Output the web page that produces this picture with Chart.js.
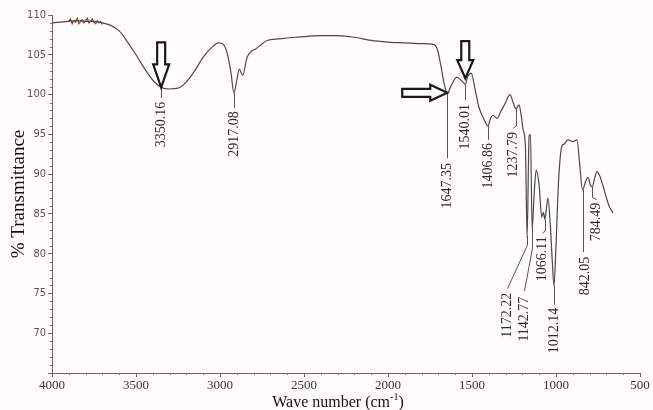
<!DOCTYPE html>
<html>
<head>
<meta charset="utf-8">
<script src="https://cdn.jsdelivr.net/npm/chart.js@4.4.1/dist/chart.umd.min.js"></script>
<style>
  html, body { margin: 0; padding: 0; background: #fffdfb; }
  canvas { display: block; }
</style>
</head>
<body>
<canvas id="c" width="653" height="410"></canvas>
<script>
// ---------- DATA ----------
const wavenumbers = [
  4000, 3950, 3900, 3850, 3800, 3750, 3700, 3650, 3600, 3550,
  3500, 3450, 3400, 3350, 3300, 3250, 3200, 3150, 3100, 3050,
  3010, 2980, 2955, 2935, 2917, 2900, 2885, 2865, 2840, 2810,
  2790, 2760, 2720, 2650, 2550, 2400, 2300, 2200, 2100, 2000,
  1900, 1800, 1730, 1705, 1685, 1665, 1647, 1620, 1590, 1570,
  1555, 1540, 1525, 1505, 1480, 1460, 1440, 1420, 1406, 1390,
  1375, 1350, 1330, 1300, 1274, 1255, 1238, 1220, 1208, 1195,
  1182, 1172, 1160, 1152, 1142, 1130, 1118, 1100, 1085, 1075,
  1066, 1058, 1048, 1035, 1022, 1012, 1000, 985, 965, 950,
  930, 900, 875, 860, 842, 825, 810, 795, 784, 770,
  756, 740, 720, 700, 680, 660
];
const transmittance = [
  109.0, 109.1, 109.2, 109.3, 109.2, 109.2, 109.0, 108.7, 108.0, 106.6,
  105.0, 103.3, 101.8, 100.9, 100.7, 100.8, 101.6, 103.0, 104.7, 105.9,
  106.5, 106.3, 105.0, 102.8, 100.2, 101.8, 103.2, 102.4, 104.6, 105.5,
  105.7, 106.2, 106.8, 107.0, 107.2, 107.4, 107.4, 107.2, 106.8, 106.6,
  106.5, 106.4, 106.3, 105.6, 103.6, 101.3, 100.2, 101.3, 102.2, 101.9,
  101.6, 101.3, 102.3, 102.7, 100.5, 98.5, 97.4, 96.5, 96.0, 97.0,
  97.4, 97.0, 97.8, 99.0, 100.0, 99.0, 98.2, 98.7, 97.5, 95.5,
  93.5, 82.0, 94.8, 95.0, 83.0, 87.5, 90.5, 88.5, 84.6, 85.2,
  84.3, 85.5, 87.0, 84.0, 79.0, 76.0, 81.0, 89.0, 93.5, 93.8,
  94.3, 94.1, 94.3, 91.5, 88.0, 89.0, 89.6, 88.6, 88.4, 89.5,
  90.3, 89.8, 88.5, 87.0, 85.8, 85.1
];
// noisy (reddish) trace near the start of the scan
const noiseWn = [3900, 3890, 3880, 3870, 3860, 3850, 3840, 3830, 3820, 3810, 3800, 3790, 3780, 3770, 3760, 3750, 3740, 3730, 3720, 3710, 3700];
const noiseT  = [109.2, 109.5, 108.9, 109.3, 109.1, 109.6, 108.9, 109.2, 109.4, 109.0, 109.3, 109.6, 109.0, 109.2, 109.5, 109.1, 108.9, 109.3, 109.0, 109.2, 108.8];

const peakLabels = ['3350.16', '2917.08', '1647.35', '1540.01', '1406.86', '1237.79', '1172.22', '1142.77', '1066.11', '1012.14', '842.05', '784.49'];
const peakWn = [3350.16, 2917.08, 1647.35, 1540.01, 1406.86, 1237.79, 1172.22, 1142.77, 1066.11, 1012.14, 842.05, 784.49];

const arrowWn = [3350.16, 1540.01, 1647.35];

const xTickMin = 500, xTickMax = 4000, xStep = 500;
const yTickMin = 65, yTickMax = 110, yStep = 5;

// ---------- LAYOUT (label placement, not data) ----------
const labelLayout = [
  { endT: 99.6, textT: 99.1, dx: 0 },
  { endT: 98.3, textT: 97.9, dx: 0 },
  { endT: 92.0, textT: 91.4, dx: 0 },
  { endT: 99.3, textT: 98.8, dx: 0 },
  { endT: 94.3, textT: 93.9, dx: 0 },
  { endT: 95.8, textT: 95.3, dx: -3 },
  { bendT: 81.1, endT: 75.6, textT: 75.1, dx: -20 },
  { bendT: 80.7, endT: 75.3, textT: 74.6, dx: -8 },
  { endT: 82.6, textT: 82.2, dx: -3 },
  { endT: 73.6, textT: 73.2, dx: 0 },
  { endT: 80.2, textT: 79.6, dx: 2 },
  { endT: 86.8, textT: 86.4, dx: 4 }
];
const arrowLayout = [
  { dir: 'down', len: 45, head: 23, tipDy: 0 },
  { dir: 'down', len: 37, head: 18, tipDy: -6 },
  { dir: 'right', len: 45, head: 17, tipDy: 0 }
];

const SERIF = '"Liberation Serif", "Times New Roman", serif';
const NARROW = '"Liberation Sans Narrow", "DejaVu Sans Condensed", "Liberation Sans", sans-serif';

function curveAt(wn) {
  for (let i = 0; i < wavenumbers.length - 1; i++) {
    const a = wavenumbers[i], b = wavenumbers[i + 1];
    if (wn <= a && wn >= b) {
      const t = (a - wn) / (a - b);
      return transmittance[i] + t * (transmittance[i + 1] - transmittance[i]);
    }
  }
  return transmittance[transmittance.length - 1];
}

const bgPlugin = {
  id: 'bg',
  beforeDraw(chart) {
    const c = chart.ctx;
    c.save();
    c.fillStyle = '#fffdfb';
    c.fillRect(0, 0, chart.width, chart.height);
    c.restore();
  }
};

const annotPlugin = {
  id: 'annot',
  afterDatasetsDraw(chart) {
    const c = chart.ctx, xs = chart.scales.x, ys = chart.scales.y;
    c.save();
    c.strokeStyle = '#555';
    c.lineWidth = 1;
    c.fillStyle = '#2a2a2a';
    c.font = '14px ' + SERIF;
    peakWn.forEach((wn, i) => {
      const L = labelLayout[i];
      const x = Math.round(xs.getPixelForValue(wn)) + 0.5;
      const y0 = ys.getPixelForValue(curveAt(wn));
      const y1 = ys.getPixelForValue(L.endT);
      const tx = x + L.dx;
      c.beginPath();
      if (L.bendT !== undefined) {
        const yb = ys.getPixelForValue(L.bendT);
        c.moveTo(x, y0); c.lineTo(x, yb); c.lineTo(tx, y1);
      } else if (Math.abs(L.dx) > 2) {
        c.moveTo(x, y0); c.lineTo(x, y1 - 2); c.lineTo(tx, y1);
      } else {
        c.moveTo(x, y0); c.lineTo(x, y1);
      }
      c.stroke();
      const ty = ys.getPixelForValue(L.textT);
      c.save();
      c.translate(tx, ty);
      c.rotate(-Math.PI / 2);
      c.textAlign = 'right';
      c.textBaseline = 'middle';
      c.fillText(peakLabels[i], 0, 0);
      c.restore();
    });
    arrowWn.forEach((wn, i) => {
      const A = arrowLayout[i];
      const tx = xs.getPixelForValue(wn);
      const ty = ys.getPixelForValue(curveAt(wn)) + A.tipDy;
      c.save();
      c.translate(tx, ty);
      if (A.dir === 'right') c.rotate(-Math.PI / 2);
      const sw = 4, hw = 8;
      c.beginPath();
      c.moveTo(0, 0);
      c.lineTo(-hw, -A.head);
      c.lineTo(-sw, -A.head);
      c.lineTo(-sw, -A.len);
      c.lineTo(sw, -A.len);
      c.lineTo(sw, -A.head);
      c.lineTo(hw, -A.head);
      c.closePath();
      c.fillStyle = '#ffffff';
      c.fill();
      c.lineWidth = 2.2;
      c.strokeStyle = '#1a1a1a';
      c.lineJoin = 'miter';
      c.stroke();
      c.restore();
    });
    c.restore();
  },
  afterDraw(chart) {
    const c = chart.ctx, xs = chart.scales.x, ys = chart.scales.y, a = chart.chartArea;
    c.save();
    c.strokeStyle = '#777';
    c.lineWidth = 1;
    c.beginPath();
    for (let v = yTickMin + 1; v < yTickMax; v++) {
      if (v % yStep === 0) continue;
      const y = Math.round(ys.getPixelForValue(v)) + 0.5;
      c.moveTo(a.left - 2, y); c.lineTo(a.left, y);
    }
    for (let v = xTickMin + 100; v < xTickMax; v += 100) {
      if (v % xStep === 0) continue;
      const x = Math.round(xs.getPixelForValue(v)) + 0.5;
      c.moveTo(x, a.bottom); c.lineTo(x, a.bottom + 2);
    }
    c.stroke();
    c.fillStyle = '#111';
    c.font = '19px ' + SERIF;
    c.save();
    c.translate(19, 194);
    c.rotate(-Math.PI / 2);
    c.textAlign = 'center';
    c.textBaseline = 'middle';
    c.fillText('% Transmittance', 0, 0);
    c.restore();

    const p1 = 'Wave number (cm', sup = '-1', p2 = ')';
    c.font = '16px ' + SERIF;
    const w1 = c.measureText(p1).width, w3 = c.measureText(p2).width;
    c.font = '10px ' + SERIF;
    const w2 = c.measureText(sup).width;
    let x = 338 - (w1 + w2 + w3) / 2;
    const yb = 407;
    c.textBaseline = 'alphabetic';
    c.textAlign = 'left';
    c.font = '16px ' + SERIF;
    c.fillText(p1, x, yb); x += w1;
    c.font = '10px ' + SERIF;
    c.fillText(sup, x, yb - 7); x += w2;
    c.font = '16px ' + SERIF;
    c.fillText(p2, x, yb);
    c.restore();
  }
};

new Chart(document.getElementById('c'), {
  type: 'line',
  data: {
    datasets: [
      {
        data: wavenumbers.map((w, i) => ({ x: w, y: transmittance[i] })),
        borderColor: '#4a4a4a',
        borderWidth: 1.2,
        pointRadius: 0,
        fill: false,
        cubicInterpolationMode: 'monotone'
      },
      {
        data: noiseWn.map((w, i) => ({ x: w, y: noiseT[i] })),
        borderColor: '#8e3b2c',
        borderWidth: 1.2,
        pointRadius: 0,
        fill: false,
        tension: 0
      }
    ]
  },
  options: {
    responsive: false,
    animation: false,
    devicePixelRatio: 1,
    layout: { padding: { top: 15, right: 13, left: 0, bottom: 0 } },
    plugins: { legend: { display: false }, tooltip: { enabled: false } },
    scales: {
      x: {
        type: 'linear',
        reverse: true,
        min: xTickMin,
        max: xTickMax,
        afterFit(s) { s.height = 37; },
        ticks: {
          stepSize: xStep,
          color: '#333',
          padding: 1,
          maxRotation: 0,
          font: { family: SERIF, size: 13 },
          callback: v => String(v)
        },
        grid: { drawOnChartArea: false, color: '#666', tickLength: 4 },
        border: { color: '#666', width: 1 }
      },
      y: {
        min: yTickMin,
        max: yTickMax,
        afterFit(s) { s.width = 52; },
        ticks: {
          stepSize: yStep,
          color: '#555',
          padding: 2,
          font: { family: NARROW, size: 11 },
          callback: v => (v === yTickMin ? '' : String(v))
        },
        grid: { drawOnChartArea: false, color: '#666', tickLength: 4 },
        border: { color: '#666', width: 1 }
      }
    }
  },
  plugins: [bgPlugin, annotPlugin]
});
</script>
</body>
</html>
